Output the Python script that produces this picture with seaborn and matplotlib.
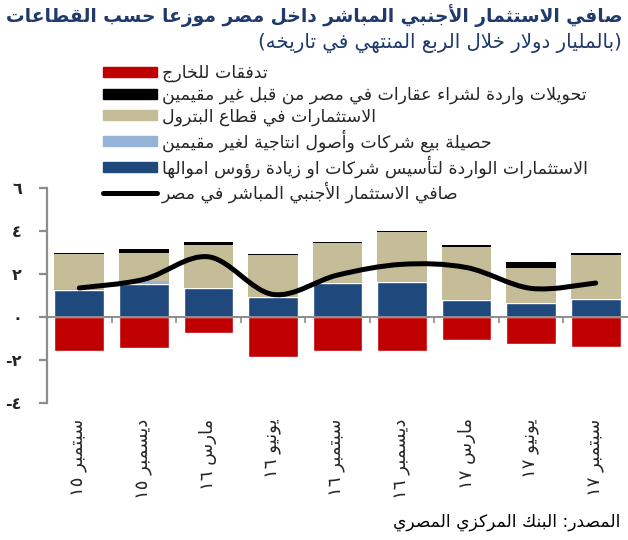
import re
import numpy as np
import pandas as pd
import matplotlib
matplotlib.use("Agg")
import matplotlib.pyplot as plt
from matplotlib.path import Path
from matplotlib.patches import PathPatch, Patch
from matplotlib.lines import Line2D
import seaborn as sns

# ---------------- data ----------------
quarters = ["سبتمبر ١٥", "ديسمبر ١٥", "مارس ١٦", "يونيو ١٦", "سبتمبر ١٦",
            "ديسمبر ١٦", "مارس ١٧", "يونيو ١٧", "سبتمبر ١٧"]
new_companies = [1.26, 1.53, 1.35, 0.93, 1.58, 1.63, 0.79, 0.65, 0.84]
asset_sales = [0.05, 0.14, 0.0, 0.0, 0.0, 0.0, 0.0, 0.0, 0.0]
petroleum = [1.62, 1.31, 2.00, 1.95, 1.86, 2.32, 2.47, 1.63, 2.04]
real_estate = [0.03, 0.18, 0.14, 0.05, 0.03, 0.03, 0.08, 0.28, 0.08]
outflows = [-1.58, -1.44, -0.74, -1.86, -1.58, -1.58, -1.07, -1.26, -1.40]
net_fdi = [1.35, 1.75, 2.80, 1.05, 1.95, 2.45, 2.30, 1.33, 1.58]
yticks = [-4, -2, 0, 2, 4, 6]
ytick_labels = ["-٤", "-٢", "٠", "٢", "٤", "٦"]

title = "صافي الاستثمار الأجنبي المباشر داخل مصر موزعا حسب القطاعات"
subtitle = "(بالمليار دولار خلال الربع المنتهي في تاريخه)"
source = "المصدر: البنك المركزي المصري"
legend_labels = ["تدفقات للخارج",
                 "تحويلات واردة لشراء عقارات في مصر من قبل غير مقيمين",
                 "الاستثمارات في قطاع البترول",
                 "حصيلة بيع شركات وأصول انتاجية لغير مقيمين",
                 "الاستثمارات الواردة لتأسيس شركات او زيادة رؤوس اموالها",
                 "صافي الاستثمار الأجنبي المباشر في مصر"]

# ---------------- arabic shaping ----------------
FOUR = {'ئ': 0xFE89, 'ب': 0xFE8F, 'ت': 0xFE95, 'ث': 0xFE99, 'ج': 0xFE9D,
        'ح': 0xFEA1, 'خ': 0xFEA5, 'س': 0xFEB1, 'ش': 0xFEB5, 'ص': 0xFEB9,
        'ض': 0xFEBD, 'ط': 0xFEC1, 'ظ': 0xFEC5, 'ع': 0xFEC9, 'غ': 0xFECD,
        'ف': 0xFED1, 'ق': 0xFED5, 'ك': 0xFED9, 'ل': 0xFEDD, 'م': 0xFEE1,
        'ن': 0xFEE5, 'ه': 0xFEE9, 'ي': 0xFEF1}
TWO = {'آ': 0xFE81, 'أ': 0xFE83, 'ؤ': 0xFE85, 'إ': 0xFE87, 'ا': 0xFE8D,
       'ة': 0xFE93, 'د': 0xFEA9, 'ذ': 0xFEAB, 'ر': 0xFEAD, 'ز': 0xFEAF,
       'و': 0xFEED, 'ى': 0xFEEF}
ONE = {'ء': 0xFE80}
LAMALEF = {'آ': 0xFEF5, 'أ': 0xFEF7, 'إ': 0xFEF9, 'ا': 0xFEFB}


def shape(s):
    out = []
    i, n = 0, len(s)
    while i < n:
        c = s[i]
        prev = s[i - 1] if i > 0 else ''
        jp = prev in FOUR
        if c == 'ل' and i + 1 < n and s[i + 1] in LAMALEF:
            b = LAMALEF[s[i + 1]]
            out.append(chr(b + 1 if jp else b))
            i += 2
            continue
        nxt = s[i + 1] if i + 1 < n else ''
        jn = nxt in FOUR or nxt in TWO
        if c in FOUR:
            b = FOUR[c]
            if jp and jn:
                f = b + 3
            elif jp:
                f = b + 1
            elif jn:
                f = b + 2
            else:
                f = b
            out.append(chr(f))
        elif c in TWO:
            b = TWO[c]
            out.append(chr(b + 1 if jp else b))
        elif c in ONE:
            out.append(chr(ONE[c]))
        else:
            out.append(c)
        i += 1
    return ''.join(out)


def ar(s):
    s = shape(s)
    toks = re.findall(r'[0-9\u0660-\u0669]+|.', s)
    toks.reverse()
    mirror = {'(': ')', ')': '('}
    return ''.join(mirror.get(t, t) for t in toks)


# ---------------- style ----------------
sns.set_theme(style="white")
plt.rcParams['font.family'] = ['DejaVu Sans']

C_RED = "#C00000"
C_BLACK = "#000000"
C_TAN = "#C4BD97"
C_LBLUE = "#95B3D7"
C_DBLUE = "#1F497D"
C_NAVY = "#1F3A6B"
C_GRAY = "#8C8C8C"

fig = plt.figure(figsize=(6.28, 5.4), dpi=100)
ax = fig.add_axes([47 / 628, 137 / 540, 1 - 47 / 628, 215 / 540])

df = pd.DataFrame({"q": quarters, "new": new_companies, "sales": asset_sales,
                   "pet": petroleum, "re": real_estate, "out": outflows})
W = 0.77
x = np.arange(len(quarters))
b1 = np.array(new_companies)
b2 = b1 + np.array(asset_sales)
b3 = b2 + np.array(petroleum)

sns.barplot(data=df, x="q", y="new", color=C_DBLUE, width=W, saturation=1,
            ax=ax, zorder=2)
ax.bar(x, asset_sales, W, bottom=b1, color=C_LBLUE, zorder=2, linewidth=0)
ax.bar(x, petroleum, W, bottom=b2, color=C_TAN, zorder=2, linewidth=0)
ax.bar(x, real_estate, W, bottom=b3, color=C_BLACK, zorder=2, linewidth=0)
sns.barplot(data=df, x="q", y="out", color=C_RED, width=W, saturation=1,
            ax=ax, zorder=2)

# smooth net line (Catmull-Rom as cubic Bezier)
P = np.column_stack([x, np.array(net_fdi)])
ext = np.vstack([P[0], P, P[-1]])
verts = [tuple(P[0])]
codes = [Path.MOVETO]
for i in range(len(P) - 1):
    p0, p1, p2, p3 = ext[i], ext[i + 1], ext[i + 2], ext[i + 3]
    c1 = p1 + (p2 - p0) / 6
    c2 = p2 - (p3 - p1) / 6
    verts += [tuple(c1), tuple(c2), tuple(p2)]
    codes += [Path.CURVE4] * 3
ax.add_patch(PathPatch(Path(verts, codes), fill=False, lw=3.6,
                       edgecolor="black", capstyle="round", zorder=4))

ax.set_xlim(-0.5, len(quarters) - 0.5)
ax.set_ylim(-4, 6)
ax.set_xlabel("")
ax.set_ylabel("")

for s in ["top", "right"]:
    ax.spines[s].set_visible(False)
ax.spines["left"].set_color(C_GRAY)
ax.spines["left"].set_linewidth(1.6)
ax.spines["bottom"].set_position(("data", 0))
ax.spines["bottom"].set_color(C_GRAY)
ax.spines["bottom"].set_linewidth(1.4)
ax.spines["bottom"].set_zorder(3)

ax.set_yticks(yticks)
ax.set_yticklabels(ytick_labels, fontsize=11.5, fontweight="bold")
ax.tick_params(axis="y", direction="out", length=6, width=1.6, color=C_GRAY,
               pad=12, left=True)

ax.set_xticks(x)
ax.set_xticklabels([ar(q) for q in quarters], rotation=90, fontsize=13)
ax.set_xticks(np.arange(0.5, len(quarters) - 0.5, 1), minor=True)
ax.tick_params(axis="x", which="major", length=0, pad=73, bottom=True)
ax.tick_params(axis="x", which="minor", direction="out", length=4, width=1.2,
               color=C_GRAY, bottom=True)
ax.grid(False)

# legend
handles = [Patch(color=C_RED), Patch(color=C_BLACK), Patch(color=C_TAN),
           Patch(color=C_LBLUE), Patch(color=C_DBLUE),
           Line2D([], [], color="black", lw=3.6)]
fig.legend(handles, [ar(l) for l in legend_labels], loc="upper left",
           bbox_to_anchor=(103 / 628, 1 - 64 / 540), frameon=False,
           fontsize=12.5, handlelength=3.1, handleheight=0.5,
           handletextpad=0.3, labelspacing=0.2, borderaxespad=0,
           borderpad=0)

# titles
fig.text(622 / 628, 1 - 16 / 540, ar(title), ha="right", va="center",
         fontsize=13.4, fontweight="bold", color=C_NAVY)
fig.text(622 / 628, 1 - 43 / 540, ar(subtitle), ha="right", va="center",
         fontsize=14.2, color=C_NAVY)
fig.text(620 / 628, 1 - 522 / 540, ar(source), ha="right", va="center",
         fontsize=12.3, color="black")

fig.savefig("out.png", dpi=100)
